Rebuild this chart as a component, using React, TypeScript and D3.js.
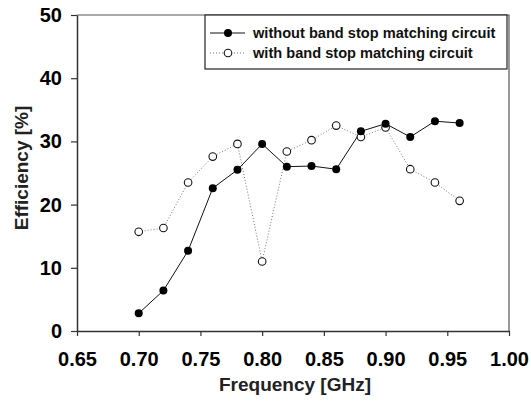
import React, { useEffect, useRef } from 'react';
import * as d3 from 'd3';

// frequency points [GHz]
const freqs = [0.70, 0.72, 0.74, 0.76, 0.78, 0.80, 0.82, 0.84, 0.86, 0.88, 0.90, 0.92, 0.94, 0.96];
// efficiency [%]
const withoutBandStop = [2.8, 6.4, 12.7, 22.6, 25.5, 29.6, 26.0, 26.1, 25.6, 31.6, 32.8, 30.7, 33.2, 32.9];
const withBandStop = [15.7, 16.3, 23.5, 27.6, 29.6, 11.0, 28.4, 30.2, 32.5, 30.7, 32.2, 25.6, 23.5, 20.6];

const xTicks = [0.65, 0.70, 0.75, 0.80, 0.85, 0.90, 0.95, 1.00];
const yTicks = [0, 10, 20, 30, 40, 50];
const legendLabels = ['without band stop matching circuit', 'with band stop matching circuit'];

const FONT = 'Arial, "Liberation Sans", sans-serif';

export default function App() {
  const ref = useRef<SVGSVGElement | null>(null);

  useEffect(() => {
    const svg = d3.select(ref.current);
    svg.selectAll('*').remove();

    const margin = { top: 15, right: 22, bottom: 73, left: 77 };
    const width = 531 - margin.left - margin.right;
    const height = 404 - margin.top - margin.bottom;

    const x = d3.scaleLinear().domain([0.65, 1.0]).range([0, width]);
    const y = d3.scaleLinear().domain([0, 50]).range([height, 0]);

    const g = svg.append('g').attr('transform', `translate(${margin.left},${margin.top})`);

    // frame (top + right)
    g.append('path')
      .attr('d', `M0,0H${width}V${height}`)
      .attr('fill', 'none')
      .attr('stroke', '#555')
      .attr('stroke-width', 1.2);

    // x axis
    const xAxis = g.append('g')
      .attr('transform', `translate(0,${height})`)
      .call(d3.axisBottom(x).tickValues(xTicks).tickFormat(d3.format('.2f')).tickSizeInner(5).tickSizeOuter(0).tickPadding(16));
    // y axis
    const yAxis = g.append('g')
      .call(d3.axisLeft(y).tickValues(yTicks).tickSizeInner(6).tickSizeOuter(0).tickPadding(9));

    [xAxis, yAxis].forEach(a => {
      a.select('.domain').attr('stroke', '#333').attr('stroke-width', 1.5);
      a.selectAll('.tick line').attr('stroke', '#333').attr('stroke-width', 1.2);
      a.selectAll('.tick text')
        .attr('fill', '#000')
        .style('font-family', FONT)
        .style('font-weight', 'bold')
        .style('font-size', '20px');
    });

    // axis titles
    g.append('text')
      .attr('x', 295 - margin.left)
      .attr('y', height + 60)
      .attr('text-anchor', 'middle')
      .style('font-family', FONT)
      .style('font-weight', 'bold')
      .style('font-size', '19px')
      .attr('fill', '#222')
      .text('Frequency [GHz]');

    g.append('text')
      .attr('transform', `translate(${-49},${153}) rotate(-90)`)
      .attr('text-anchor', 'middle')
      .style('font-family', FONT)
      .style('font-weight', 'bold')
      .style('font-size', '19px')
      .attr('fill', '#222')
      .text('Efficiency [%]');

    const idx = d3.range(freqs.length);
    const line = (vals: number[]) => d3.line<number>().x(i => x(freqs[i])).y(i => y(vals[i]))(idx);

    // with band stop: dotted, open circles
    g.append('path')
      .attr('d', line(withBandStop))
      .attr('fill', 'none')
      .attr('stroke', '#777')
      .attr('stroke-width', 1)
      .attr('stroke-dasharray', '1,2');

    // without band stop: solid, filled circles
    g.append('path')
      .attr('d', line(withoutBandStop))
      .attr('fill', 'none')
      .attr('stroke', '#111')
      .attr('stroke-width', 1);

    g.selectAll('.open')
      .data(idx)
      .enter().append('circle')
      .attr('class', 'open')
      .attr('cx', i => x(freqs[i]))
      .attr('cy', i => y(withBandStop[i]))
      .attr('r', 3.8)
      .attr('fill', '#fff')
      .attr('stroke', '#111')
      .attr('stroke-width', 1.1);

    g.selectAll('.filled')
      .data(idx)
      .enter().append('circle')
      .attr('class', 'filled')
      .attr('cx', i => x(freqs[i]))
      .attr('cy', i => y(withoutBandStop[i]))
      .attr('r', 4)
      .attr('fill', '#000');

    // legend
    const lg = g.append('g').attr('transform', `translate(${205 - margin.left},0)`);
    lg.append('rect')
      .attr('x', 0).attr('y', 0)
      .attr('width', 302).attr('height', 54)
      .attr('fill', '#fff')
      .attr('stroke', '#222')
      .attr('stroke-width', 1.2);

    legendLabels.forEach((label, k) => {
      const ly = 18 + k * 20;
      lg.append('line')
        .attr('x1', 5).attr('x2', 40)
        .attr('y1', ly).attr('y2', ly)
        .attr('stroke', k === 0 ? '#111' : '#777')
        .attr('stroke-width', 1)
        .attr('stroke-dasharray', k === 0 ? null : '1,2');
      lg.append('circle')
        .attr('cx', 23).attr('cy', ly)
        .attr('r', k === 0 ? 4 : 3.8)
        .attr('fill', k === 0 ? '#000' : '#fff')
        .attr('stroke', '#111')
        .attr('stroke-width', k === 0 ? 0 : 1.1);
      lg.append('text')
        .attr('x', 48)
        .attr('y', ly + 5)
        .style('font-family', FONT)
        .style('font-weight', 'bold')
        .style('font-size', '14.6px')
        .attr('fill', '#111')
        .text(label);
    });
  }, []);

  return (
    <svg ref={ref} width={531} height={404}
      style={{ position: 'absolute', left: 0, top: 0, background: '#fff' }} />
  );
}
